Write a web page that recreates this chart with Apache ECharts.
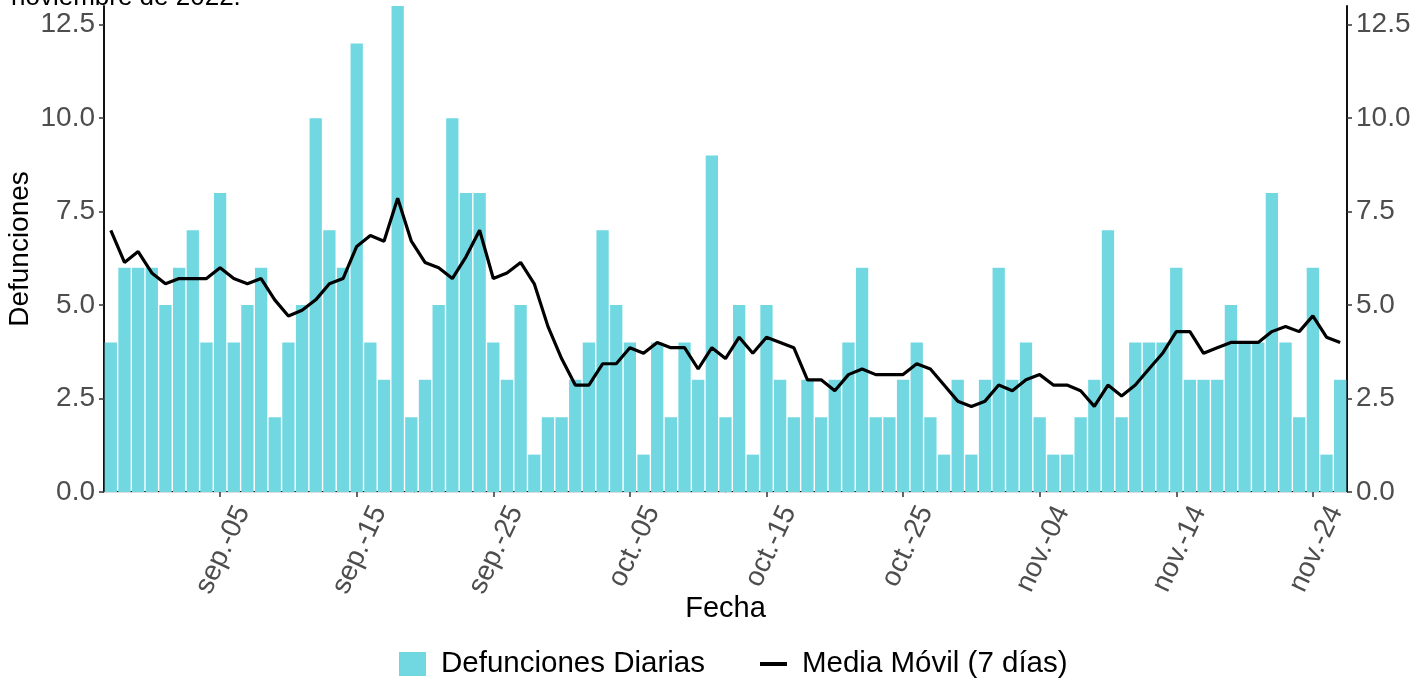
<!DOCTYPE html>
<html>
<head>
<meta charset="utf-8">
<script src="https://cdn.jsdelivr.net/npm/echarts@6/dist/echarts.min.js"></script>
<style>
html,body{margin:0;padding:0;background:#fff;}
#chart{width:1428px;height:679px;}
</style>
</head>
<body>
<div id="chart"></div>
<script>
// Daily deaths, 2022-08-28 .. 2022-11-26 (one value per day)
const startDate = '2022-08-28';
const dayCount = 91;
const monthAbbr = ['ene.','feb.','mar.','abr.','may.','jun.','jul.','ago.','sep.','oct.','nov.','dic.'];

const dailyDeaths = [
  4, 6, 6, 6, 5, 6, 7, 4, 8, 4,
  5, 6, 2, 4, 5, 10, 7, 6, 12, 4,
  3, 13, 2, 3, 5, 10, 8, 8, 4, 3,
  5, 1, 2, 2, 3, 4, 7, 5, 4, 1,
  4, 2, 4, 3, 9, 2, 5, 1, 5, 3,
  2, 3, 2, 3, 4, 6, 2, 2, 3, 4,
  2, 1, 3, 1, 3, 6, 3, 4, 2, 1,
  1, 2, 3, 7, 2, 4, 4, 4, 6, 3,
  3, 3, 5, 4, 4, 8, 4, 2, 6, 1,
  3
];

// 7-day moving average
const movingAvg = [
  7.00, 6.14, 6.43, 5.86, 5.57, 5.71, 5.71, 5.71, 6.00, 5.71,
  5.57, 5.71, 5.14, 4.71, 4.86, 5.14, 5.57, 5.71, 6.57, 6.86,
  6.71, 7.86, 6.71, 6.14, 6.00, 5.71, 6.29, 7.00, 5.71, 5.86,
  6.14, 5.57, 4.43, 3.57, 2.86, 2.86, 3.43, 3.43, 3.86, 3.71,
  4.00, 3.86, 3.86, 3.29, 3.86, 3.57, 4.14, 3.71, 4.14, 4.00,
  3.86, 3.00, 3.00, 2.71, 3.14, 3.29, 3.14, 3.14, 3.14, 3.43,
  3.29, 2.86, 2.43, 2.29, 2.43, 2.86, 2.71, 3.00, 3.14, 2.86,
  2.86, 2.71, 2.29, 2.86, 2.57, 2.86, 3.29, 3.71, 4.29, 4.29,
  3.71, 3.86, 4.00, 4.00, 4.00, 4.29, 4.43, 4.29, 4.71, 4.14,
  4.00
];

const yTicks = [0, 2.5, 5, 7.5, 10, 12.5];
const firstLabelIndex = 8;   // sep.-05
const labelStep = 10;

const categories = [];
(function () {
  const d0 = new Date(startDate + 'T00:00:00Z');
  for (let i = 0; i < dayCount; i++) {
    const d = new Date(d0.getTime() + i * 86400000);
    categories.push(d.toISOString().slice(0, 10));
  }
})();

function fmtDate(s) {
  const m = parseInt(s.slice(5, 7), 10) - 1;
  return monthAbbr[m] + '-' + s.slice(8, 10);
}
function showIdx(i) { return i >= firstLabelIndex && (i - firstLabelIndex) % labelStep === 0; }

const FONT = 'Liberation Sans';
const chart = echarts.init(document.getElementById('chart'), null, {renderer: 'canvas'});

const yAxisCommon = {
  type: 'value', min: 0, max: 13, interval: 2.5,
  nameMoveOverlap: false,
  axisLine: {show: true, lineStyle: {color: '#111', width: 2}},
  axisTick: {show: true, length: 5, lineStyle: {color: '#333', width: 1.5}, customValues: yTicks},
  axisLabel: {
    color: '#4d4d4d', fontSize: 28, fontFamily: FONT, margin: 9,
    customValues: yTicks,
    formatter: v => (v > 12.6 ? '' : v.toFixed(1))
  },
  splitLine: {show: false}
};

chart.setOption({
  animation: false,
  backgroundColor: '#fff',
  title: {
    text: 'noviembre de 2022.',
    left: 6, top: -20,
    textStyle: {fontFamily: FONT, fontSize: 26, fontWeight: 'normal', color: '#000'}
  },
  grid: {left: 104, right: 81, top: 6, bottom: 187, containLabel: false, outerBoundsMode: 'none'},
  legend: {
    left: 394, top: 644,
    itemWidth: 27, itemHeight: 24, itemGap: 55,
    textStyle: {fontFamily: FONT, fontSize: 29.5, color: '#000', padding: [0, 0, 0, 10]},
    data: [
      {name: 'Defunciones Diarias', icon: 'rect'},
      {name: 'Media Móvil (7 días)', icon: 'path://M0,0 H23 V3.4 H0 Z'}
    ]
  },
  xAxis: [
    {
      type: 'category', data: categories, boundaryGap: true, position: 'bottom',
      name: 'Fecha', nameLocation: 'middle', nameGap: 102, nameMoveOverlap: false,
      nameTextStyle: {fontFamily: FONT, fontSize: 29, color: '#000'},
      axisLine: {show: true, lineStyle: {color: '#111', width: 2}},
      axisTick: {show: true, alignWithLabel: true, length: 5, interval: (i) => showIdx(i), lineStyle: {color: '#333', width: 1.5}},
      axisLabel: {
        interval: (i) => showIdx(i), rotate: 65, margin: 5,
        color: '#4d4d4d', fontSize: 28, fontFamily: FONT,
        verticalAlign: 'top', lineHeight: 50,
        formatter: (v) => fmtDate(v)
      },
      splitLine: {show: false}
    },
    {
      type: 'category', data: categories, boundaryGap: true, position: 'top',
      axisLine: {show: true, lineStyle: {color: '#dcdcdc', width: 1}},
      axisTick: {show: false}, axisLabel: {show: false}, splitLine: {show: false}
    }
  ],
  yAxis: [
    Object.assign({}, yAxisCommon, {
      position: 'left',
      name: 'Defunciones', nameLocation: 'middle', nameGap: 70, nameRotate: 90,
      nameTextStyle: {fontFamily: FONT, fontSize: 28, color: '#000'}
    }),
    Object.assign({}, yAxisCommon, {position: 'right'})
  ],
  series: [
    {
      name: 'Defunciones Diarias', type: 'bar', data: dailyDeaths,
      barCategoryGap: '10%',
      itemStyle: {color: '#71d8e2'},
      z: 2
    },
    {
      name: 'Media Móvil (7 días)', type: 'line', data: movingAvg,
      symbol: 'none', showSymbol: false,
      lineStyle: {color: '#000', width: 3.2},
      itemStyle: {color: '#000'},
      z: 3
    }
  ]
});
</script>
</body>
</html>
